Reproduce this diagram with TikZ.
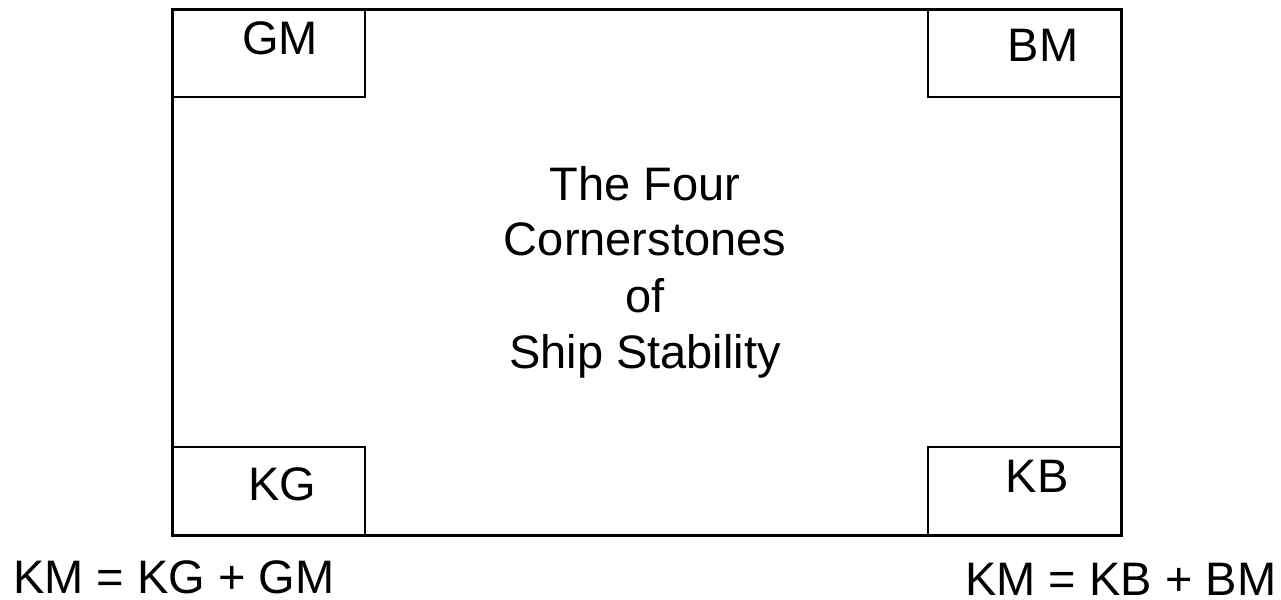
\documentclass[tikz,border=0pt]{standalone}
\usepackage{fontspec}
\setmainfont{Liberation Sans}
\begin{document}
\begin{tikzpicture}[x=0.5pt,y=-0.5pt,
  frame/.style={draw=black,line width=1.4pt},
  cornerbox/.style={draw=black,line width=1.2pt,minimum width=96.5pt,minimum height=44pt,inner sep=0pt,anchor=north west},
  lbl/.style={inner sep=0pt,anchor=base,font=\fontsize{23.5}{28}\selectfont},
  relation/.style={inner sep=0pt,anchor=base west,font=\fontsize{23.5}{28}\selectfont}]
  \useasboundingbox (0,0) rectangle (1281,600);
  % outer frame
  \node[frame,minimum width=474.5pt,minimum height=263pt,inner sep=0pt,anchor=north west] (ship) at (171,8) {};
  % corner boxes
  \node[cornerbox] (gmbox) at (171,8) {};
  \node[cornerbox] (bmbox) at (927,8) {};
  \node[cornerbox] (kgbox) at (171,446) {};
  \node[cornerbox] (kbbox) at (927,446) {};
  % corner labels
  \node[lbl] (gm) at (280,54) {GM};
  \node[lbl] (bm) at (1043,61) {BM};
  \node[lbl] (kg) at (282,500) {KG};
  \node[lbl] (kb) at (1037,492) {KB};
  % central title
  \node[lbl] (t1) at (645,200) {The Four};
  \node[lbl] (t2) at (645,255) {Cornerstones};
  \node[lbl] (t3) at (645,312) {of};
  \node[lbl] (t4) at (645,368) {Ship Stability};
  % relations
  \node[relation] (eq1) at (13,593) {KM = KG + GM};
  \node[relation] (eq2) at (965,595) {KM = KB + BM};
\end{tikzpicture}
\end{document}
